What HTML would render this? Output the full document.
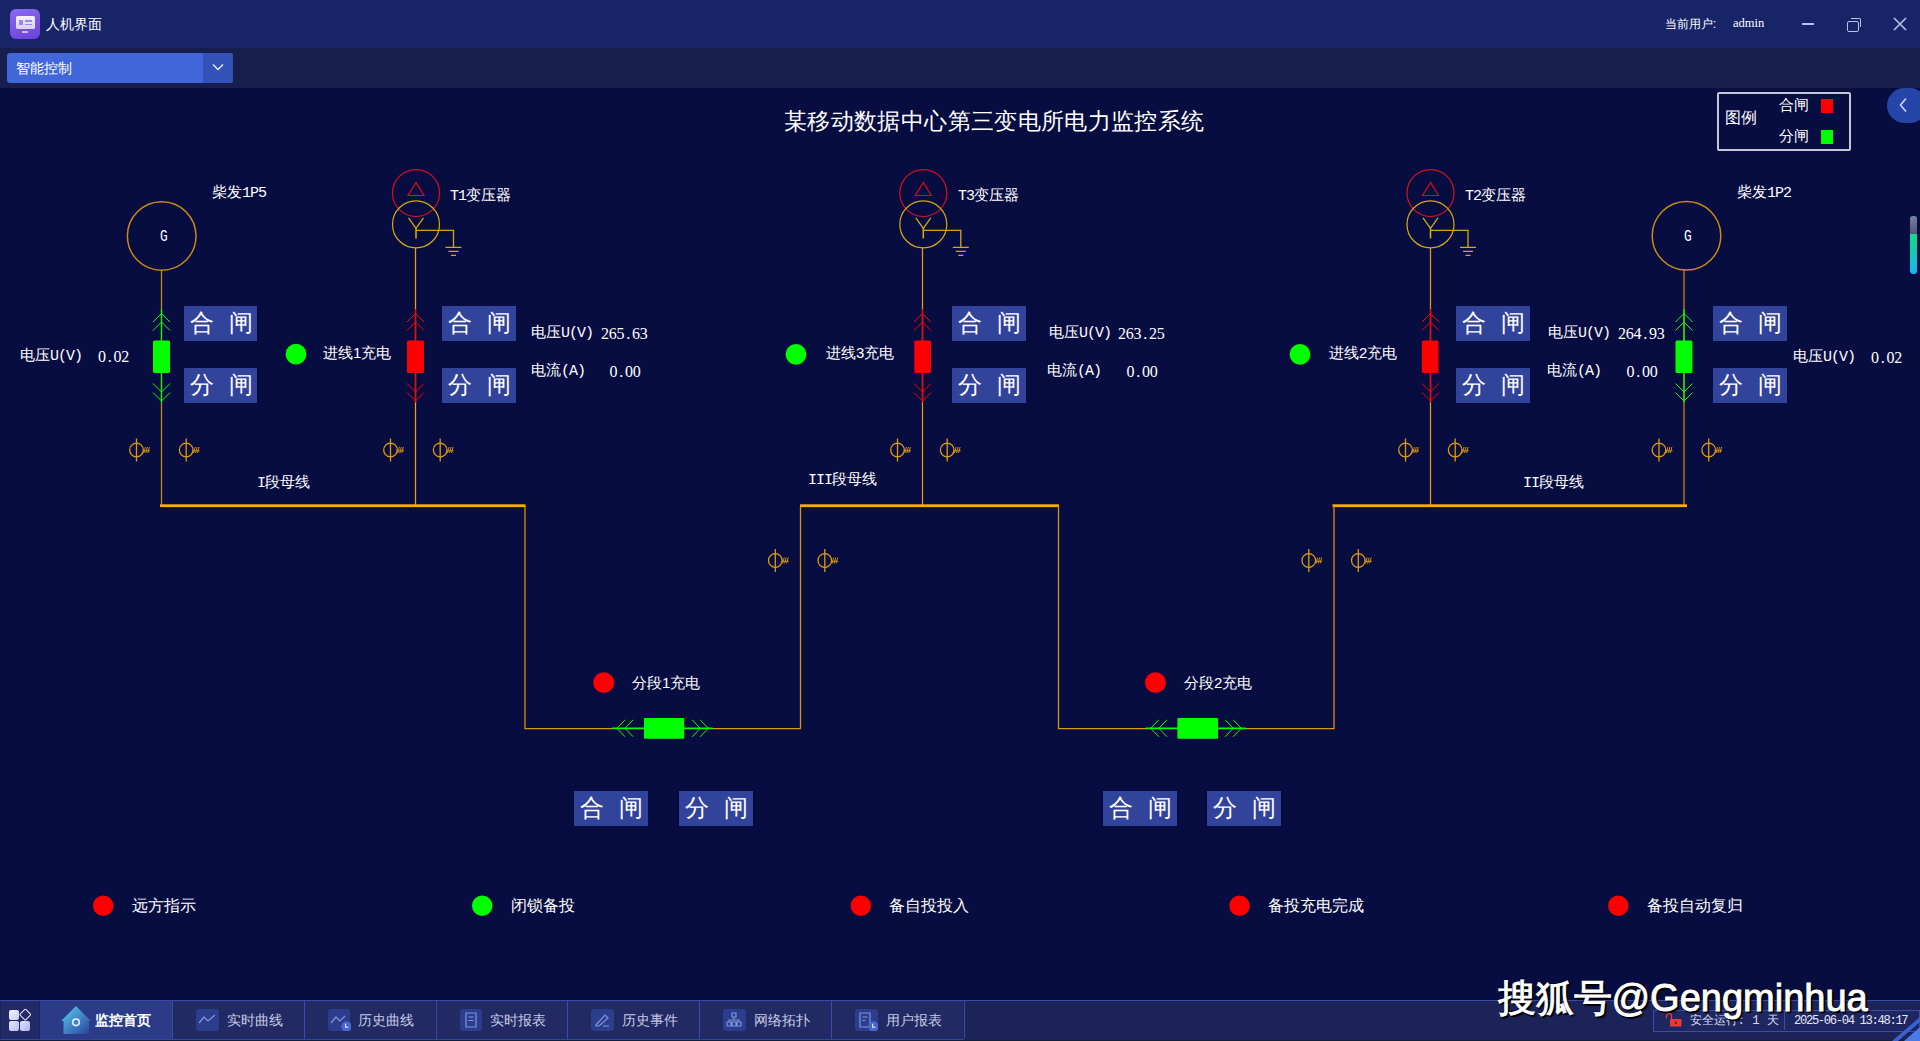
<!DOCTYPE html>
<html><head><meta charset="utf-8">
<style>
html,body{margin:0;padding:0;}
body{width:1920px;height:1041px;overflow:hidden;position:relative;background:#080d41;font-family:"Liberation Sans",sans-serif;color:#fff;}
.abs{position:absolute;}
.t{position:absolute;white-space:nowrap;line-height:1;color:#fff;}
.m{font-family:"Liberation Mono",monospace;letter-spacing:-1.0px;}
.n{position:absolute;white-space:nowrap;line-height:1;color:#fff;font-family:"Liberation Serif",serif;font-size:16px!important;letter-spacing:-0.2px;}
.n i{font-style:normal;margin:0 1.9px;}
.g{position:absolute;font-family:"Liberation Mono",monospace;font-size:16px;line-height:1;color:#fff;transform:scaleX(.8);transform-origin:0 0;}
.btn{position:absolute;background:#32439b;}
.btn span{position:absolute;top:5px;font-size:24px;line-height:1;color:#fff;font-family:"Liberation Serif",serif;}
#titlebar{position:absolute;left:0;top:0;width:1920px;height:48px;background:#182468;}
#toolbar{position:absolute;left:0;top:48px;width:1920px;height:40px;background:#171e4e;}
#taskbar{position:absolute;left:0;top:1000px;width:1920px;height:41px;background:#1c2358;}
</style></head><body>

<div id="titlebar">
  <div class="abs" style="left:10px;top:9px;width:30px;height:30px;border-radius:6px;background:linear-gradient(160deg,#8a6cf0,#6a40dc);"></div>
  <div class="abs" style="left:15.5px;top:16px;width:19px;height:12.5px;border-radius:1.5px;background:linear-gradient(180deg,#f4f2ff,#d8d0f8);"></div>
  <div class="abs" style="left:19px;top:19.5px;width:3.5px;height:5.5px;background:#9b86ee;"></div>
  <div class="abs" style="left:25px;top:20px;width:7px;height:1.6px;background:#9b86ee;"></div>
  <div class="abs" style="left:25px;top:23.5px;width:7px;height:1.6px;background:#9b86ee;"></div>
  <div class="abs" style="left:22px;top:30.5px;width:6px;height:2px;background:#c8bcf6;"></div>
  <div class="t" style="left:45.5px;top:16.5px;font-size:14.2px;">人机界面</div>
  <div class="t" style="left:1664.8px;top:17.5px;font-size:12.3px;">当前用户:</div>
  <div class="t" style="left:1733px;top:17px;font-size:12.5px;font-family:'Liberation Serif',serif;letter-spacing:0px">admin</div>
  <div class="abs" style="left:1802px;top:23px;width:12px;height:1.6px;background:#b8bfe8;"></div>
  <div class="abs" style="left:1847px;top:20.5px;width:10px;height:9px;border:1.5px solid #b8bfe8;border-radius:2px;"></div>
  <div class="abs" style="left:1851px;top:17.5px;width:9px;height:8.5px;border-top:1.5px solid #b8bfe8;border-right:1.5px solid #b8bfe8;border-radius:0 2px 0 0;"></div>
  <svg class="abs" style="left:1893px;top:17px" width="14" height="14"><path d="M1 1L13 13M13 1L1 13" stroke="#b8bfe8" stroke-width="1.6"/></svg>
</div>
<div id="toolbar">
  <div class="abs" style="left:7px;top:5px;width:226px;height:30px;border-radius:3px;background:#4166d9;overflow:hidden">
    <div class="abs" style="left:196px;top:0;width:30px;height:30px;background:#3252b9;"></div>
  </div>
  <div class="t" style="left:15.8px;top:14px;font-size:13.6px;">智能控制</div>
  <svg class="abs" style="left:212px;top:63px;margin-top:-48px" width="12" height="8"><path d="M1 1.5L6 6.5L11 1.5" fill="none" stroke="#e6eaff" stroke-width="1.5"/></svg>
</div>
<div class="abs" style="left:1717.3px;top:92.3px;width:129.5px;height:54.5px;border:2px solid #c4c6d6;border-radius:2px;"></div>
<div class="t" style="left:1725px;top:110px;font-size:16px;">图例</div>
<div class="t" style="left:1779px;top:96.5px;font-size:15px;">合闸</div>
<div class="t" style="left:1779px;top:127.5px;font-size:15px;">分闸</div>
<div class="abs" style="left:1821px;top:99px;width:12px;height:14px;background:#ff0000;"></div>
<div class="abs" style="left:1821px;top:129.5px;width:12px;height:14px;background:#00ff00;"></div>
<div class="abs" style="left:1887px;top:88px;width:40px;height:35px;border-radius:17.5px;background:#2546a8;"></div>
<svg class="abs" style="left:1898px;top:97px" width="10" height="16"><path d="M8 1.5L2.5 8L8 14.5" fill="none" stroke="#c8d2ff" stroke-width="1.6"/></svg>
<div class="abs" style="left:1910px;top:216px;width:7px;height:58px;border-radius:3.5px;overflow:hidden;background:linear-gradient(180deg,#12e884 0%,#14d09a 50%,#1ab4f4 100%);">
  <div class="abs" style="left:0;top:0;width:7px;height:18px;background:linear-gradient(180deg,#7a7fa0,#50557a);"></div>
</div>

<svg class="abs" style="left:0;top:0" width="1920" height="1041" viewBox="0 0 1920 1041">
<line x1="161.5" y1="270.5" x2="161.5" y2="506" stroke="#c98a12" stroke-width="1.25"/>
<line x1="415.5" y1="248" x2="415.5" y2="506" stroke="#eda00a" stroke-width="1.25"/>
<line x1="922.5" y1="248" x2="922.5" y2="506" stroke="#e49c0a" stroke-width="1.25"/>
<line x1="1430.5" y1="248" x2="1430.5" y2="506" stroke="#e49c0a" stroke-width="1.25"/>
<line x1="1684" y1="270" x2="1684" y2="506" stroke="#c98a12" stroke-width="1.25"/>
<circle cx="161.7" cy="236" r="34.3" fill="none" stroke="#c98a12" stroke-width="1.5"/>
<circle cx="1686.5" cy="235.7" r="34.3" fill="none" stroke="#c98a12" stroke-width="1.5"/>
<circle cx="416" cy="193" r="23.5" fill="none" stroke="#d0101c" stroke-width="1.25"/>
<polygon points="416,182.5 408,195.5 424,195.5" fill="none" stroke="#e00a14" stroke-width="1.2"/>
<circle cx="416" cy="224.4" r="23.5" fill="none" stroke="#d4a514" stroke-width="1.25"/>
<polyline points="408.5,217.9 416,228.4 423.5,217.9" fill="none" stroke="#d4a514" stroke-width="1.3"/>
<line x1="416" y1="228.4" x2="416" y2="238.4" stroke="#d4a514" stroke-width="1.6"/>
<polyline points="416,230.4 453.5,230.4 453.5,247.4" fill="none" stroke="#d4a514" stroke-width="1.3"/>
<path d="M445.5 247.4h16 M448.5 251.4h10 M451.0 255.4h5" stroke="#d4a514" stroke-width="1.3"/>
<circle cx="923.3" cy="193" r="23.5" fill="none" stroke="#d0101c" stroke-width="1.25"/>
<polygon points="923.3,182.5 915.3,195.5 931.3,195.5" fill="none" stroke="#e00a14" stroke-width="1.2"/>
<circle cx="923.3" cy="224.4" r="23.5" fill="none" stroke="#d4a514" stroke-width="1.25"/>
<polyline points="915.8,217.9 923.3,228.4 930.8,217.9" fill="none" stroke="#d4a514" stroke-width="1.3"/>
<line x1="923.3" y1="228.4" x2="923.3" y2="238.4" stroke="#d4a514" stroke-width="1.6"/>
<polyline points="923.3,230.4 960.8,230.4 960.8,247.4" fill="none" stroke="#d4a514" stroke-width="1.3"/>
<path d="M952.8 247.4h16 M955.8 251.4h10 M958.3 255.4h5" stroke="#d4a514" stroke-width="1.3"/>
<circle cx="1430.5" cy="193" r="23.5" fill="none" stroke="#d0101c" stroke-width="1.25"/>
<polygon points="1430.5,182.5 1422.5,195.5 1438.5,195.5" fill="none" stroke="#e00a14" stroke-width="1.2"/>
<circle cx="1430.5" cy="224.4" r="23.5" fill="none" stroke="#d4a514" stroke-width="1.25"/>
<polyline points="1423.0,217.9 1430.5,228.4 1438.0,217.9" fill="none" stroke="#d4a514" stroke-width="1.3"/>
<line x1="1430.5" y1="228.4" x2="1430.5" y2="238.4" stroke="#d4a514" stroke-width="1.6"/>
<polyline points="1430.5,230.4 1468.0,230.4 1468.0,247.4" fill="none" stroke="#d4a514" stroke-width="1.3"/>
<path d="M1460.0 247.4h16 M1463.0 251.4h10 M1465.5 255.4h5" stroke="#d4a514" stroke-width="1.3"/>
<line x1="161.5" y1="309" x2="161.5" y2="402.5" stroke="#00ff00" stroke-width="1.25"/>
<rect x="153" y="340.5" width="17" height="32.5" rx="1.5" fill="#00ff00"/>
<polyline points="153.0,322.0 161.5,313.5 170.0,322.0" fill="none" stroke="#00ff00" stroke-width="1.0"/>
<polyline points="153.0,330.5 161.5,322 170.0,330.5" fill="none" stroke="#00ff00" stroke-width="1.0"/>
<polyline points="153.0,383.5 161.5,392 170.0,383.5" fill="none" stroke="#00ff00" stroke-width="1.0"/>
<polyline points="153.0,392.5 161.5,401 170.0,392.5" fill="none" stroke="#00ff00" stroke-width="1.0"/>
<line x1="415.5" y1="309" x2="415.5" y2="402.5" stroke="#ff0000" stroke-width="1.25"/>
<rect x="407" y="340.5" width="17" height="32.5" rx="1.5" fill="#ff0000"/>
<polyline points="407.0,322.0 415.5,313.5 424.0,322.0" fill="none" stroke="#ff0000" stroke-width="1.0"/>
<polyline points="407.0,330.5 415.5,322 424.0,330.5" fill="none" stroke="#ff0000" stroke-width="1.0"/>
<polyline points="407.0,383.5 415.5,392 424.0,383.5" fill="none" stroke="#ff0000" stroke-width="1.0"/>
<polyline points="407.0,392.5 415.5,401 424.0,392.5" fill="none" stroke="#ff0000" stroke-width="1.0"/>
<line x1="922.5" y1="309" x2="922.5" y2="402.5" stroke="#ff0000" stroke-width="1.25"/>
<rect x="914.3" y="340.5" width="16.700000000000045" height="32.5" rx="1.5" fill="#ff0000"/>
<polyline points="914.0,322.0 922.5,313.5 931.0,322.0" fill="none" stroke="#ff0000" stroke-width="1.0"/>
<polyline points="914.0,330.5 922.5,322 931.0,330.5" fill="none" stroke="#ff0000" stroke-width="1.0"/>
<polyline points="914.0,383.5 922.5,392 931.0,383.5" fill="none" stroke="#ff0000" stroke-width="1.0"/>
<polyline points="914.0,392.5 922.5,401 931.0,392.5" fill="none" stroke="#ff0000" stroke-width="1.0"/>
<line x1="1430.5" y1="309" x2="1430.5" y2="402.5" stroke="#ff0000" stroke-width="1.25"/>
<rect x="1421.8" y="340.5" width="16.700000000000045" height="32.5" rx="1.5" fill="#ff0000"/>
<polyline points="1422.0,322.0 1430.5,313.5 1439.0,322.0" fill="none" stroke="#ff0000" stroke-width="1.0"/>
<polyline points="1422.0,330.5 1430.5,322 1439.0,330.5" fill="none" stroke="#ff0000" stroke-width="1.0"/>
<polyline points="1422.0,383.5 1430.5,392 1439.0,383.5" fill="none" stroke="#ff0000" stroke-width="1.0"/>
<polyline points="1422.0,392.5 1430.5,401 1439.0,392.5" fill="none" stroke="#ff0000" stroke-width="1.0"/>
<line x1="1684" y1="309" x2="1684" y2="402.5" stroke="#00ff00" stroke-width="1.25"/>
<rect x="1675.5" y="340.5" width="16.90000000000009" height="32.5" rx="1.5" fill="#00ff00"/>
<polyline points="1675.5,322.0 1684,313.5 1692.5,322.0" fill="none" stroke="#00ff00" stroke-width="1.0"/>
<polyline points="1675.5,330.5 1684,322 1692.5,330.5" fill="none" stroke="#00ff00" stroke-width="1.0"/>
<polyline points="1675.5,383.5 1684,392 1692.5,383.5" fill="none" stroke="#00ff00" stroke-width="1.0"/>
<polyline points="1675.5,392.5 1684,401 1692.5,392.5" fill="none" stroke="#00ff00" stroke-width="1.0"/>
<rect x="160" y="504.3" width="365.5" height="2.8" fill="#ffab00"/>
<rect x="800" y="504.3" width="259" height="2.8" fill="#ffab00"/>
<rect x="1332.5" y="504.3" width="354.5" height="2.8" fill="#ffab00"/>
<polyline points="525,506 525,728.6 800.5,728.6 800.5,506" fill="none" stroke="#dc960c" stroke-width="1.25"/>
<polyline points="1058.5,506 1058.5,728.6 1334,728.6 1334,506" fill="none" stroke="#dc960c" stroke-width="1.25"/>
<line x1="612" y1="728.3" x2="712.7" y2="728.3" stroke="#00ff00" stroke-width="1.6"/>
<rect x="644" y="718" width="40.200000000000045" height="20.8" rx="1" fill="#00ff00"/>
<polyline points="625.1,719.8 616.9,728.3 625.1,736.8" fill="none" stroke="#00ff00" stroke-width="1.0"/>
<polyline points="633.2,719.8 625,728.3 633.2,736.8" fill="none" stroke="#00ff00" stroke-width="1.0"/>
<polyline points="692.1,719.8 700.3000000000001,728.3 692.1,736.8" fill="none" stroke="#00ff00" stroke-width="1.0"/>
<polyline points="700.1,719.8 708.3000000000001,728.3 700.1,736.8" fill="none" stroke="#00ff00" stroke-width="1.0"/>
<line x1="1145.8" y1="728.3" x2="1245.7" y2="728.3" stroke="#00ff00" stroke-width="1.6"/>
<rect x="1177.4" y="718" width="40.59999999999991" height="20.8" rx="1" fill="#00ff00"/>
<polyline points="1158.9,719.8 1150.7,728.3 1158.9,736.8" fill="none" stroke="#00ff00" stroke-width="1.0"/>
<polyline points="1167.0,719.8 1158.8,728.3 1167.0,736.8" fill="none" stroke="#00ff00" stroke-width="1.0"/>
<polyline points="1225.1,719.8 1233.3,728.3 1225.1,736.8" fill="none" stroke="#00ff00" stroke-width="1.0"/>
<polyline points="1233.1,719.8 1241.3,728.3 1233.1,736.8" fill="none" stroke="#00ff00" stroke-width="1.0"/>
<ellipse cx="136.5" cy="450" rx="6.8" ry="6.9" fill="none" stroke="#e29a0a" stroke-width="1.3"/>
<line x1="136.5" y1="438.5" x2="136.5" y2="461.5" stroke="#e29a0a" stroke-width="1.3"/>
<path d="M143.0 450.8h7 M143.8 453 l1.6 -6 M145.8 453 l1.6 -6 M147.8 453 l1.6 -6" stroke="#e29a0a" stroke-width="0.9" fill="none"/>
<ellipse cx="186.2" cy="450" rx="6.8" ry="6.9" fill="none" stroke="#e29a0a" stroke-width="1.3"/>
<line x1="186.2" y1="438.5" x2="186.2" y2="461.5" stroke="#e29a0a" stroke-width="1.3"/>
<path d="M192.7 450.8h7 M193.5 453 l1.6 -6 M195.5 453 l1.6 -6 M197.5 453 l1.6 -6" stroke="#e29a0a" stroke-width="0.9" fill="none"/>
<ellipse cx="390.5" cy="450" rx="6.8" ry="6.9" fill="none" stroke="#e29a0a" stroke-width="1.3"/>
<line x1="390.5" y1="438.5" x2="390.5" y2="461.5" stroke="#e29a0a" stroke-width="1.3"/>
<path d="M397.0 450.8h7 M397.8 453 l1.6 -6 M399.8 453 l1.6 -6 M401.8 453 l1.6 -6" stroke="#e29a0a" stroke-width="0.9" fill="none"/>
<ellipse cx="440.2" cy="450" rx="6.8" ry="6.9" fill="none" stroke="#e29a0a" stroke-width="1.3"/>
<line x1="440.2" y1="438.5" x2="440.2" y2="461.5" stroke="#e29a0a" stroke-width="1.3"/>
<path d="M446.7 450.8h7 M447.5 453 l1.6 -6 M449.5 453 l1.6 -6 M451.5 453 l1.6 -6" stroke="#e29a0a" stroke-width="0.9" fill="none"/>
<ellipse cx="897.5" cy="450" rx="6.8" ry="6.9" fill="none" stroke="#e29a0a" stroke-width="1.3"/>
<line x1="897.5" y1="438.5" x2="897.5" y2="461.5" stroke="#e29a0a" stroke-width="1.3"/>
<path d="M904.0 450.8h7 M904.8 453 l1.6 -6 M906.8 453 l1.6 -6 M908.8 453 l1.6 -6" stroke="#e29a0a" stroke-width="0.9" fill="none"/>
<ellipse cx="947.2" cy="450" rx="6.8" ry="6.9" fill="none" stroke="#e29a0a" stroke-width="1.3"/>
<line x1="947.2" y1="438.5" x2="947.2" y2="461.5" stroke="#e29a0a" stroke-width="1.3"/>
<path d="M953.7 450.8h7 M954.5 453 l1.6 -6 M956.5 453 l1.6 -6 M958.5 453 l1.6 -6" stroke="#e29a0a" stroke-width="0.9" fill="none"/>
<ellipse cx="1405.5" cy="450" rx="6.8" ry="6.9" fill="none" stroke="#e29a0a" stroke-width="1.3"/>
<line x1="1405.5" y1="438.5" x2="1405.5" y2="461.5" stroke="#e29a0a" stroke-width="1.3"/>
<path d="M1412.0 450.8h7 M1412.8 453 l1.6 -6 M1414.8 453 l1.6 -6 M1416.8 453 l1.6 -6" stroke="#e29a0a" stroke-width="0.9" fill="none"/>
<ellipse cx="1455.2" cy="450" rx="6.8" ry="6.9" fill="none" stroke="#e29a0a" stroke-width="1.3"/>
<line x1="1455.2" y1="438.5" x2="1455.2" y2="461.5" stroke="#e29a0a" stroke-width="1.3"/>
<path d="M1461.7 450.8h7 M1462.5 453 l1.6 -6 M1464.5 453 l1.6 -6 M1466.5 453 l1.6 -6" stroke="#e29a0a" stroke-width="0.9" fill="none"/>
<ellipse cx="1659" cy="450" rx="6.8" ry="6.9" fill="none" stroke="#e29a0a" stroke-width="1.3"/>
<line x1="1659" y1="438.5" x2="1659" y2="461.5" stroke="#e29a0a" stroke-width="1.3"/>
<path d="M1665.5 450.8h7 M1666.3 453 l1.6 -6 M1668.3 453 l1.6 -6 M1670.3 453 l1.6 -6" stroke="#e29a0a" stroke-width="0.9" fill="none"/>
<ellipse cx="1708.7" cy="450" rx="6.8" ry="6.9" fill="none" stroke="#e29a0a" stroke-width="1.3"/>
<line x1="1708.7" y1="438.5" x2="1708.7" y2="461.5" stroke="#e29a0a" stroke-width="1.3"/>
<path d="M1715.2 450.8h7 M1716.0 453 l1.6 -6 M1718.0 453 l1.6 -6 M1720.0 453 l1.6 -6" stroke="#e29a0a" stroke-width="0.9" fill="none"/>
<ellipse cx="775.3" cy="560.5" rx="6.8" ry="6.9" fill="none" stroke="#e29a0a" stroke-width="1.3"/>
<line x1="775.3" y1="549.0" x2="775.3" y2="572.0" stroke="#e29a0a" stroke-width="1.3"/>
<path d="M781.8 561.3h7 M782.5999999999999 563.5 l1.6 -6 M784.5999999999999 563.5 l1.6 -6 M786.5999999999999 563.5 l1.6 -6" stroke="#e29a0a" stroke-width="0.9" fill="none"/>
<ellipse cx="824.8" cy="560.5" rx="6.8" ry="6.9" fill="none" stroke="#e29a0a" stroke-width="1.3"/>
<line x1="824.8" y1="549.0" x2="824.8" y2="572.0" stroke="#e29a0a" stroke-width="1.3"/>
<path d="M831.3 561.3h7 M832.0999999999999 563.5 l1.6 -6 M834.0999999999999 563.5 l1.6 -6 M836.0999999999999 563.5 l1.6 -6" stroke="#e29a0a" stroke-width="0.9" fill="none"/>
<ellipse cx="1308.8" cy="560.5" rx="6.8" ry="6.9" fill="none" stroke="#e29a0a" stroke-width="1.3"/>
<line x1="1308.8" y1="549.0" x2="1308.8" y2="572.0" stroke="#e29a0a" stroke-width="1.3"/>
<path d="M1315.3 561.3h7 M1316.1 563.5 l1.6 -6 M1318.1 563.5 l1.6 -6 M1320.1 563.5 l1.6 -6" stroke="#e29a0a" stroke-width="0.9" fill="none"/>
<ellipse cx="1358.3" cy="560.5" rx="6.8" ry="6.9" fill="none" stroke="#e29a0a" stroke-width="1.3"/>
<line x1="1358.3" y1="549.0" x2="1358.3" y2="572.0" stroke="#e29a0a" stroke-width="1.3"/>
<path d="M1364.8 561.3h7 M1365.6 563.5 l1.6 -6 M1367.6 563.5 l1.6 -6 M1369.6 563.5 l1.6 -6" stroke="#e29a0a" stroke-width="0.9" fill="none"/>
<circle cx="296" cy="354.2" r="10.4" fill="#00ff00"/>
<circle cx="796" cy="354.3" r="10.4" fill="#00ff00"/>
<circle cx="1300" cy="354.3" r="10.4" fill="#00ff00"/>
<circle cx="603.7" cy="682.7" r="10.4" fill="#ff0000"/>
<circle cx="1155.4" cy="682.7" r="10.4" fill="#ff0000"/>
<circle cx="103.2" cy="905.7" r="10.2" fill="#ff0000"/>
<circle cx="482.2" cy="905.7" r="10.2" fill="#00ff00"/>
<circle cx="860.8" cy="905.7" r="10.2" fill="#ff0000"/>
<circle cx="1239.5" cy="905.7" r="10.2" fill="#ff0000"/>
<circle cx="1618.3" cy="905.7" r="10.2" fill="#ff0000"/>
</svg>
<div class="t" style="left:212px;top:183.8px;font-size:15px;">柴发<span class="m">1P5</span></div>
<div class="t" style="left:1737px;top:183.8px;font-size:15px;">柴发<span class="m">1P2</span></div>
<div class="t" style="left:450px;top:186.8px;font-size:15px;"><span class="m">T1</span>变压器</div>
<div class="t" style="left:958px;top:186.8px;font-size:15px;"><span class="m">T3</span>变压器</div>
<div class="t" style="left:1465px;top:186.8px;font-size:15px;"><span class="m">T2</span>变压器</div>
<div class="g" style="left:159.5px;top:229px">G</div>
<div class="g" style="left:1683.5px;top:229px">G</div>
<div class="t" style="left:20px;top:346.8px;font-size:15px;">电压<span class="m">U(V)</span></div>
<div class="n" style="left:98px;top:348.8px;font-size:15px;">0<i>.</i>02</div>
<div class="t" style="left:1793px;top:347.8px;font-size:15px;">电压<span class="m">U(V)</span></div>
<div class="n" style="left:1871px;top:349.8px;font-size:15px;">0<i>.</i>02</div>
<div class="t" style="left:531px;top:323.8px;font-size:15px;">电压<span class="m">U(V)</span></div>
<div class="n" style="left:601px;top:325.8px;font-size:15px;">265<i>.</i>63</div>
<div class="t" style="left:531px;top:361.8px;font-size:15px;">电流<span class="m">(A)</span></div>
<div class="n" style="left:609.5px;top:363.8px;font-size:15px;">0<i>.</i>00</div>
<div class="t" style="left:1049px;top:323.8px;font-size:15px;">电压<span class="m">U(V)</span></div>
<div class="n" style="left:1118px;top:325.8px;font-size:15px;">263<i>.</i>25</div>
<div class="t" style="left:1047px;top:361.8px;font-size:15px;">电流<span class="m">(A)</span></div>
<div class="n" style="left:1126.5px;top:363.8px;font-size:15px;">0<i>.</i>00</div>
<div class="t" style="left:1548px;top:323.8px;font-size:15px;">电压<span class="m">U(V)</span></div>
<div class="n" style="left:1618px;top:325.8px;font-size:15px;">264<i>.</i>93</div>
<div class="t" style="left:1547px;top:361.8px;font-size:15px;">电流<span class="m">(A)</span></div>
<div class="n" style="left:1626.5px;top:363.8px;font-size:15px;">0<i>.</i>00</div>
<div class="t" style="left:323px;top:344.8px;font-size:15px;">进线1充电</div>
<div class="t" style="left:826px;top:344.8px;font-size:15px;">进线3充电</div>
<div class="t" style="left:1329px;top:344.8px;font-size:15px;">进线2充电</div>
<div class="t" style="left:632px;top:674.8px;font-size:15px;">分段1充电</div>
<div class="t" style="left:1184px;top:674.8px;font-size:15px;">分段2充电</div>
<div class="t" style="left:257px;top:473.8px;font-size:15px;"><span class="m">I</span>段母线</div>
<div class="t" style="left:808px;top:470.8px;font-size:15px;"><span class="m">III</span>段母线</div>
<div class="t" style="left:1523px;top:473.8px;font-size:15px;"><span class="m">II</span>段母线</div>
<div class="t" style="left:132px;top:897.8px;font-size:15.5px;">远方指示</div>
<div class="t" style="left:511px;top:897.8px;font-size:15.5px;">闭锁备投</div>
<div class="t" style="left:889px;top:897.8px;font-size:15.5px;">备自投投入</div>
<div class="t" style="left:1268px;top:897.8px;font-size:15.5px;">备投充电完成</div>
<div class="t" style="left:1647px;top:897.8px;font-size:15.5px;">备投自动复归</div>
<div class="btn" style="left:184px;top:306px;width:73px;height:35px"><span style="left:6px">合</span><span style="left:45px">闸</span></div>
<div class="btn" style="left:184px;top:368px;width:73px;height:35px"><span style="left:6px">分</span><span style="left:45px">闸</span></div>
<div class="btn" style="left:442px;top:306px;width:74px;height:35px"><span style="left:6px">合</span><span style="left:45px">闸</span></div>
<div class="btn" style="left:442px;top:368px;width:74px;height:35px"><span style="left:6px">分</span><span style="left:45px">闸</span></div>
<div class="btn" style="left:952.3px;top:306px;width:73.8px;height:35px"><span style="left:6px">合</span><span style="left:45px">闸</span></div>
<div class="btn" style="left:952.3px;top:368px;width:73.8px;height:35px"><span style="left:6px">分</span><span style="left:45px">闸</span></div>
<div class="btn" style="left:1456px;top:306px;width:73.8px;height:35px"><span style="left:6px">合</span><span style="left:45px">闸</span></div>
<div class="btn" style="left:1456px;top:368px;width:73.8px;height:35px"><span style="left:6px">分</span><span style="left:45px">闸</span></div>
<div class="btn" style="left:1713.2px;top:306px;width:73.8px;height:35px"><span style="left:6px">合</span><span style="left:45px">闸</span></div>
<div class="btn" style="left:1713.2px;top:368px;width:73.8px;height:35px"><span style="left:6px">分</span><span style="left:45px">闸</span></div>
<div class="btn" style="left:574px;top:790.5px;width:74px;height:35px"><span style="left:6px">合</span><span style="left:45px">闸</span></div>
<div class="btn" style="left:679px;top:790.5px;width:74px;height:35px"><span style="left:6px">分</span><span style="left:45px">闸</span></div>
<div class="btn" style="left:1102.5px;top:790.5px;width:74px;height:35px"><span style="left:6px">合</span><span style="left:45px">闸</span></div>
<div class="btn" style="left:1207px;top:790.5px;width:74px;height:35px"><span style="left:6px">分</span><span style="left:45px">闸</span></div>
<div class="t" style="left:784px;top:110px;font-size:23.4px;letter-spacing:0.36px">某移动数据中心第三变电所电力监控系统</div>

<div id="taskbar">
  <div class="abs" style="left:0;top:0;width:1920px;height:1px;background:#3a4aa6;"></div>
  <div class="abs" style="left:0;top:40px;width:1920px;height:1px;background:#12203a;"></div>
  <div class="abs" style="left:0;top:39px;width:964px;height:1px;background:#34459e;"></div>
  <div class="abs" style="left:1px;top:1px;width:38px;height:38px;background:#222a66;"></div>
  <div class="abs" style="left:9px;top:10px;width:9.5px;height:9.5px;border-radius:2px;background:linear-gradient(135deg,#f4f4ff,#c9cdf2);"></div>
  <div class="abs" style="left:20.5px;top:9.5px;width:6.5px;height:6.5px;border:1.8px solid #e8e8ff;border-radius:1.5px;transform:rotate(45deg);transform-origin:center;margin-left:0.8px;margin-top:0.6px"></div>
  <div class="abs" style="left:9px;top:21.2px;width:9.5px;height:9.8px;border-radius:2px;background:linear-gradient(135deg,#e6e8ff,#b9bdea);"></div>
  <div class="abs" style="left:20.2px;top:21.2px;width:9.8px;height:9.8px;border-radius:2px;background:linear-gradient(135deg,#dfe2ff,#aeb3e6);"></div>
  <div class="abs" style="left:40px;top:1px;width:132px;height:38px;background:#2b3b88;"></div>
  <svg class="abs" style="left:60px;top:5px" width="32" height="30">
    <defs><linearGradient id="hg" x1="0" y1="0" x2="1" y2="1"><stop offset="0" stop-color="#5ad2f4"/><stop offset="1" stop-color="#2a3f9c"/></linearGradient></defs>
    <path d="M16 1 L31 16 L29 16 L29 28.5 Q29 29 28.5 29 L4 29 Q3.5 29 3.5 28.5 L3.5 16 L1 16 Z" fill="url(#hg)"/>
    <circle cx="16" cy="17.3" r="3.3" fill="none" stroke="#e8f0ff" stroke-width="1.6"/>
  </svg>
  <div class="t" style="left:94.5px;top:13px;font-size:14.2px;font-weight:bold;">监控首页</div>
  <div class="abs" style="left:172.0px;top:1px;width:1.8px;height:38px;background:#364cae;"></div>
  <div class="abs" style="left:173.0px;top:1px;width:130.6px;height:38px;background:#222a64;"></div>
  <div class="abs" style="left:196.0px;top:9px;width:22.5px;height:22px;border-radius:3px;background:#2c3d8e;"></div>
  <svg class="abs" style="left:196.0px;top:9px" width="23" height="22" style="overflow:visible"><path d="M3 14 L8 8 L12 12 L19 6" fill="none" stroke="#7f96dc" stroke-width="1.2"/></svg>
  <div class="t" style="left:226.5px;top:12.5px;font-size:14px;color:#c6cbe6">实时曲线</div>
  <div class="abs" style="left:303.8px;top:1px;width:1.8px;height:38px;background:#364cae;"></div>
  <div class="abs" style="left:304.8px;top:1px;width:130.6px;height:38px;background:#222a64;"></div>
  <div class="abs" style="left:327.8px;top:9px;width:22.5px;height:22px;border-radius:3px;background:#2c3d8e;"></div>
  <svg class="abs" style="left:327.8px;top:9px" width="23" height="22" style="overflow:visible"><path d="M3 14 L8 8 L12 12 L17 7" fill="none" stroke="#7f96dc" stroke-width="1.2"/><circle cx="18.5" cy="17.5" r="5.2" fill="#4867cc"/><path d="M17.6 14.8v3.4h2.8" fill="none" stroke="#e8ecff" stroke-width="1.1"/></svg>
  <div class="t" style="left:358.3px;top:12.5px;font-size:14px;color:#c6cbe6">历史曲线</div>
  <div class="abs" style="left:435.6px;top:1px;width:1.8px;height:38px;background:#364cae;"></div>
  <div class="abs" style="left:436.6px;top:1px;width:130.6px;height:38px;background:#222a64;"></div>
  <div class="abs" style="left:459.6px;top:9px;width:22.5px;height:22px;border-radius:3px;background:#2c3d8e;"></div>
  <svg class="abs" style="left:459.6px;top:9px" width="23" height="22" style="overflow:visible"><path d="M6 4h10v14h-10z M8.5 8h5 M8.5 11.5h5" fill="none" stroke="#7f96dc" stroke-width="1.2"/></svg>
  <div class="t" style="left:490.1px;top:12.5px;font-size:14px;color:#c6cbe6">实时报表</div>
  <div class="abs" style="left:567.4000000000001px;top:1px;width:1.8px;height:38px;background:#364cae;"></div>
  <div class="abs" style="left:568.4000000000001px;top:1px;width:130.6px;height:38px;background:#222a64;"></div>
  <div class="abs" style="left:591.4000000000001px;top:9px;width:22.5px;height:22px;border-radius:3px;background:#2c3d8e;"></div>
  <svg class="abs" style="left:591.4000000000001px;top:9px" width="23" height="22" style="overflow:visible"><path d="M5 16 L14 6 L17 9 L8 17 L5 17Z M12 17h6" fill="none" stroke="#7f96dc" stroke-width="1.2"/></svg>
  <div class="t" style="left:621.9000000000001px;top:12.5px;font-size:14px;color:#c6cbe6">历史事件</div>
  <div class="abs" style="left:699.2px;top:1px;width:1.8px;height:38px;background:#364cae;"></div>
  <div class="abs" style="left:700.2px;top:1px;width:130.6px;height:38px;background:#222a64;"></div>
  <div class="abs" style="left:723.2px;top:9px;width:22.5px;height:22px;border-radius:3px;background:#2c3d8e;"></div>
  <svg class="abs" style="left:723.2px;top:9px" width="23" height="22" style="overflow:visible"><path d="M9 4h4v4h-4z M4 13h4v4h-4z M9 13h4v4h-4z M14 13h4v4h-4z M11 8v3 M6 13v-2h10v2" fill="none" stroke="#7f96dc" stroke-width="1.2"/></svg>
  <div class="t" style="left:753.7px;top:12.5px;font-size:14px;color:#c6cbe6">网络拓扑</div>
  <div class="abs" style="left:831.0px;top:1px;width:1.8px;height:38px;background:#364cae;"></div>
  <div class="abs" style="left:832.0px;top:1px;width:130.6px;height:38px;background:#222a64;"></div>
  <div class="abs" style="left:855.0px;top:9px;width:22.5px;height:22px;border-radius:3px;background:#2c3d8e;"></div>
  <svg class="abs" style="left:855.0px;top:9px" width="23" height="22" style="overflow:visible"><path d="M5 4h10v14h-10z M7.5 8h5 M7.5 11.5h3" fill="none" stroke="#7f96dc" stroke-width="1.2"/><circle cx="18.5" cy="17.5" r="5.2" fill="#4867cc"/><path d="M17.6 14.8v3.4h2.8" fill="none" stroke="#e8ecff" stroke-width="1.1"/></svg>
  <div class="t" style="left:885.5px;top:12.5px;font-size:14px;color:#c6cbe6">用户报表</div>
  <div class="abs" style="left:963.5px;top:1px;width:1.8px;height:38px;background:#364cae;"></div>
  <div class="abs" style="left:1653px;top:9.5px;width:265px;height:20px;border:1px solid #3b4da6;background:#1e2762"></div>
  <div class="abs" style="left:1784px;top:10px;width:1px;height:20px;background:#3b4da6;"></div>
  <svg class="abs" style="left:1664px;top:12px" width="20" height="16"><path d="M2.5 6 V4 Q2.5 1.5 5 1.5 Q7.5 1.5 7.5 4 V7" fill="none" stroke="#e83a3a" stroke-width="1.3"/><rect x="6" y="7" width="11.5" height="7.5" rx="0.5" fill="#e8393a"/><rect x="11.2" y="9.5" width="1.4" height="2.6" fill="#401020"/></svg>
  <div class="t" style="left:1689.5px;top:14px;font-size:12.2px;color:#d8dcf0">安全运行<span style="font-family:'Liberation Mono',monospace">:&nbsp;1&nbsp;</span>天</div>
  <div class="t" style="left:1794px;top:15px;font-size:12.2px;color:#e6e8f6;font-family:'Liberation Mono',monospace;letter-spacing:-1.35px">2025-06-04 13:48:17</div>
  <svg class="abs" style="left:1880px;top:15px" width="40" height="26"><path d="M12 26 L40 2 L40 7 L18 26Z" fill="#3a62d0"/><path d="M24 26 L40 12 L40 26Z" fill="#4a7ae8"/></svg>
</div>
<div class="t" style="left:1497.5px;top:978.5px;font-size:38px;color:#fff;-webkit-text-stroke:0.9px #fff;text-shadow:1.5px 1.5px 0.5px #000,2px 2px 1.5px #000,-0.6px -0.6px 0.8px rgba(0,0,0,.8)">搜狐号<span style="font-family:'Liberation Sans',sans-serif">@Gengminhua</span></div>

</body></html>
